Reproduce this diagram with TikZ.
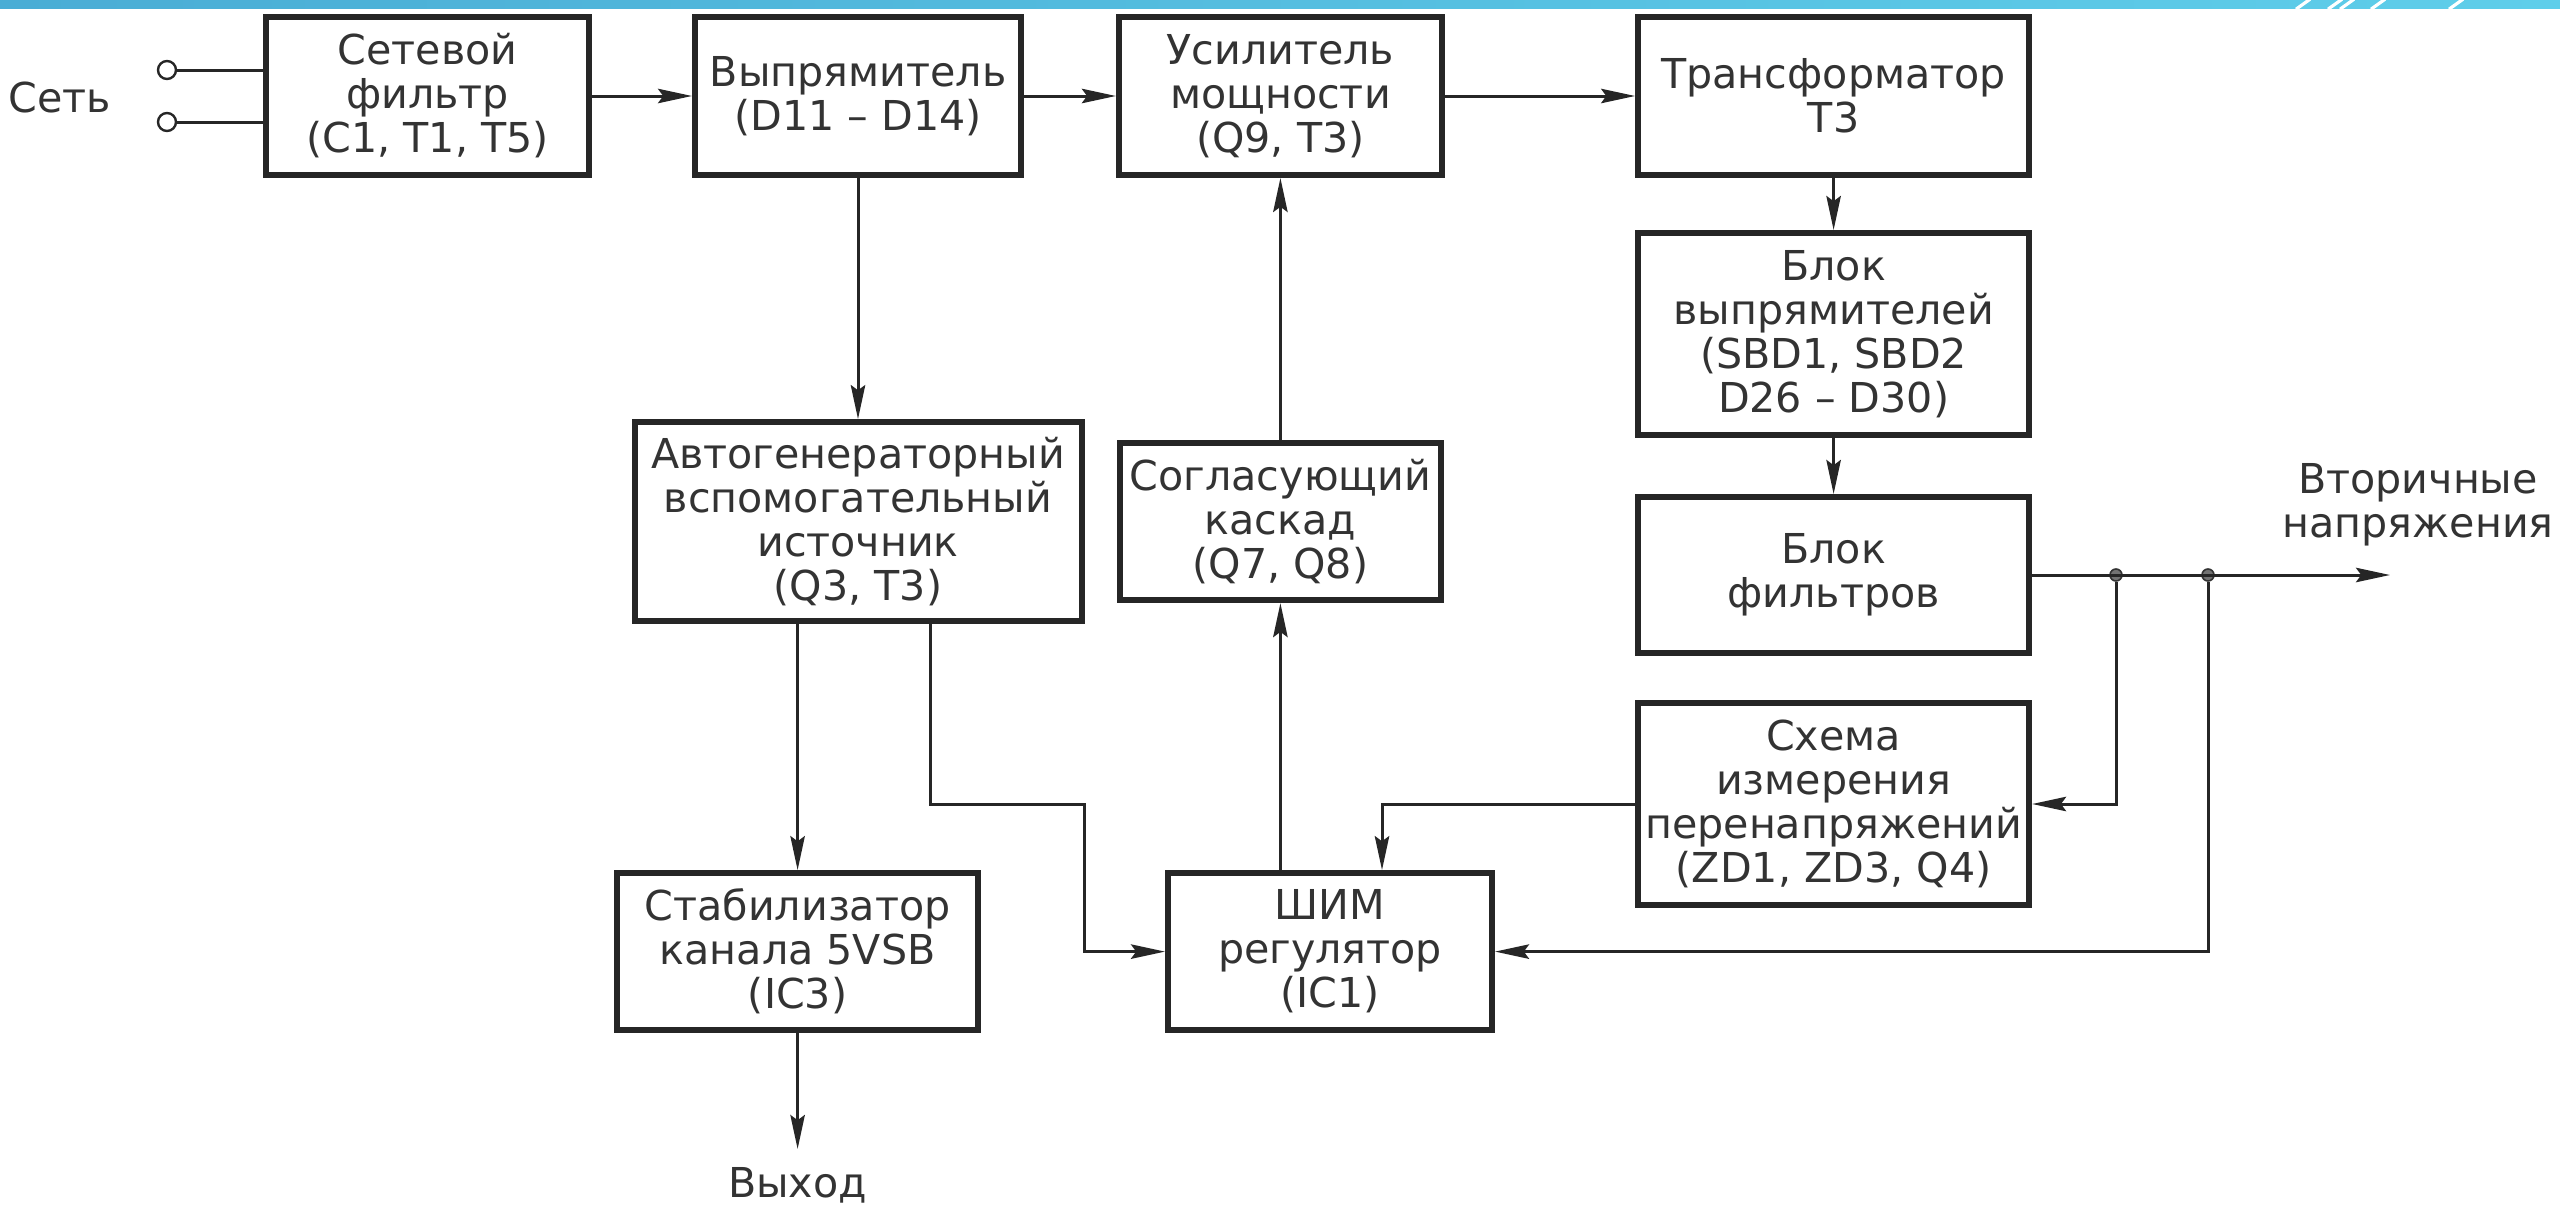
\documentclass[tikz,border=0pt]{standalone}
\usepackage{fontspec}
\setmainfont{DejaVu Sans}
\usetikzlibrary{arrows.meta,shapes}
\definecolor{barL}{HTML}{4AADD5}
\definecolor{barR}{HTML}{5FCEEA}

\begin{document}
\begin{tikzpicture}[
  >={Stealth[length=8.5bp,width=3.6bp,inset=1.3bp]},
  block/.style={draw=black!85,line width=1.5bp,align=center,inner sep=0pt,
    font=\fontsize{10.3bp}{11bp}\selectfont,text=black!80},
  wire/.style={draw=black!85,line width=0.75bp},
  lbl/.style={align=center,font=\fontsize{10.3bp}{11bp}\selectfont,text=black!80},
  term/.style={draw=black!85,circle,line width=0.6bp,inner sep=0pt,minimum size=4.5bp},
  dot/.style={draw=black!80,fill=black!55,circle,line width=0.4bp,inner sep=0pt,minimum size=3bp}]

\useasboundingbox (0bp,0bp) rectangle (640bp,-301.75bp);
\shade [left color=barL,right color=barR] (0bp,0bp) rectangle (640bp,-2.1bp);
\foreach \x in {574,582,585,592.75,612.25}
  \draw [white,line width=0.8bp] (\x bp,-2.3bp) -- ++(3.5bp,2.5bp);

\node (NF) at (106.9bp,-24bp)[block,minimum width=80.75bp,minimum height=39.5bp] {Сетевой\\фильтр\\(C1, T1, T5)};
\node (RE) at (214.5bp,-24bp)[block,minimum width=81.5bp,minimum height=39.5bp] {Выпрямитель\\(D11 – D14)};
\node (PA) at (320.1bp,-24bp)[block,minimum width=80.75bp,minimum height=39.5bp] {Усилитель\\мощности\\(Q9, T3)};
\node (TR) at (458.4bp,-24bp)[block,minimum width=97.75bp,minimum height=39.5bp] {Трансформатор\\T3};
\node (RB) at (458.4bp,-83.5bp)[block,minimum width=97.75bp,minimum height=50.5bp] {Блок\\выпрямителей\\(SBD1, SBD2\\D26 – D30)};
\node (FB) at (458.4bp,-143.75bp)[block,minimum width=97.75bp,minimum height=39bp] {Блок\\фильтров};
\node (AG) at (214.5bp,-130.4bp)[block,minimum width=111.75bp,minimum height=49.75bp] {Автогенераторный\\вспомогательный\\источник\\(Q3, T3)};
\node (MC) at (320.1bp,-130.4bp)[block,minimum width=80.25bp,minimum height=39.25bp] {Согласующий\\каскад\\(Q7, Q8)};
\node (OV) at (458.4bp,-201bp)[block,minimum width=97.75bp,minimum height=50.5bp] {Схема\\измерения\\перенапряжений\\(ZD1, ZD3, Q4)};
\node (SB) at (199.4bp,-237.9bp)[block,minimum width=90.25bp,minimum height=39.25bp] {Стабилизатор\\канала 5VSB\\(IC3)};
\node (PW) at (332.5bp,-237.9bp)[block,minimum width=81bp,minimum height=39.25bp] {ШИМ\\регулятор\\(IC1)};

\node (T1) at (41.75bp,-17.5bp)[term] {};
\node (T2) at (41.75bp,-30.5bp)[term] {};
\node (MAINS) at (15bp,-24.25bp)[lbl] {Сеть};
\node (J1) at (529bp,-143.75bp)[dot] {};
\node (J2) at (552bp,-143.75bp)[dot] {};
\coordinate (OUT) at (597.5bp,-143.75bp);
\coordinate (VO) at (199.4bp,-287.25bp);
\node (SEC) at (604.5bp,-126.25bp)[lbl] {Вторичные\\напряжения};
\node (VOL) at (199.4bp,-296.25bp)[lbl] {Выход};

\draw [wire] (T1) to (T1 -| NF.west);
\draw [wire] (T2) to (T2 -| NF.west);
\draw [wire,->] (NF) to (RE);
\draw [wire,->] (RE) to (PA);
\draw [wire,->] (PA) to (TR);
\draw [wire,->] (TR) to (RB);
\draw [wire,->] (RB) to (FB);
\draw [wire,->] (FB) to (OUT);
\draw [wire,->] (RE) to (AG);
\draw [wire,->] (MC) to (PA);
\draw [wire,->] (MC.south |- PW.north) to (MC.south);
\draw [wire,->] (SB.north |- AG.south) to (SB.north);
\draw [wire,->] ([xshift=18bp]AG.south) |- (AG.east |- OV.west) |- (PW.west);
\draw [wire,->] (OV.west) -| ([xshift=13bp]PW.north);
\draw [wire,->] (J1) |- (OV.east);
\draw [wire,->] (J2) |- (PW.east);
\draw [wire,->] (SB) to (VO);
\end{tikzpicture}
\end{document}
